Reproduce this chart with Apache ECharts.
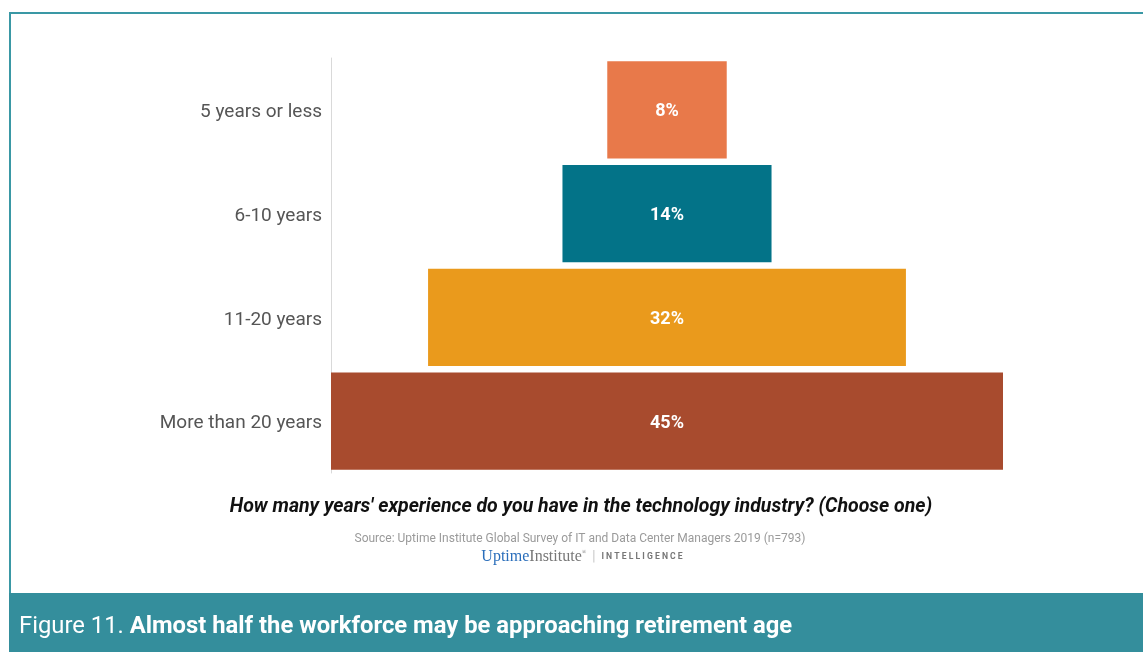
<!DOCTYPE html>
<html>
<head>
<meta charset="utf-8">
<script src="https://cdn.jsdelivr.net/npm/echarts@6/dist/echarts.min.js"></script>
<style>
  html, body { margin: 0; padding: 0; background: #fff; }
  #chart { width: 1143px; height: 652px; }
</style>
</head>
<body>
<div id="chart"></div>
<script>
// Years of experience in the technology industry (share of respondents, %)
const categories = ['5 years or less', '6-10 years', '11-20 years', 'More than 20 years'];
const shares = [8, 14, 32, 45];
const barColors = ['#e8794a', '#037388', '#ea9a1c', '#a84b2e'];

const question = "How many years' experience do you have in the technology industry? (Choose one)";
const source = 'Source: Uptime Institute Global Survey of IT and Data Center Managers 2019 (n=793)';

const maxShare = Math.max(...shares);
// transparent spacer so each bar sits centred on the widest one
const spacer = shares.map(v => (maxShare - v) / 2);

const chart = echarts.init(document.getElementById('chart'));
chart.setOption({
  animation: false,
  backgroundColor: '#fff',
  grid: { left: 331, right: 140, top: 58, height: 415 },
  xAxis: {
    type: 'value', min: 0, max: maxShare,
    show: false
  },
  yAxis: {
    type: 'category', data: categories, inverse: true,
    axisLine: { show: true, lineStyle: { color: '#d9d9d9', width: 1 } },
    axisTick: { show: false },
    axisLabel: {
      margin: 9,
      formatter: v => '{c|' + v + '}',
      rich: {
        c: { color: '#555', fontSize: 19, fontFamily: 'Roboto', padding: [5, 0, 0, 0] }
      }
    }
  },
  series: [
    {
      type: 'bar', stack: 'f', data: spacer,
      itemStyle: { color: 'transparent' },
      barCategoryGap: '6.5%', silent: true
    },
    {
      type: 'bar', stack: 'f',
      data: shares.map((v, i) => ({ value: v, itemStyle: { color: barColors[i] } })),
      barCategoryGap: '6.5%',
      label: {
        show: true, position: 'inside', formatter: '{c}%', offset: [0, 2],
        color: '#fff', fontWeight: 'bold', fontSize: 18, fontFamily: 'Roboto'
      }
    }
  ],
  title: [
    {
      text: question, left: 581, top: 497, textAlign: 'center', padding: 0,
      textStyle: { fontFamily: 'Roboto', fontSize: 19.5, fontWeight: 'bold', fontStyle: 'italic', color: '#111' }
    },
    {
      text: source, left: 580, top: 533, textAlign: 'center', padding: 0,
      textStyle: { fontFamily: 'Roboto', fontSize: 12, fontWeight: 'normal', color: '#9a9a9a' }
    },
    {
      text: '{u|Uptime}{i|Institute}{r|®}{s| | }{t|I N T E L L I G E N C E}',
      left: 582, top: 549, textAlign: 'center', padding: 0,
      textStyle: {
        fontWeight: 'normal',
        rich: {
          u: { fontFamily: 'Liberation Serif', fontSize: 16, fontWeight: 'normal', color: '#2a6ebb' },
          i: { fontFamily: 'Liberation Serif', fontSize: 16, fontWeight: 'normal', color: '#777' },
          r: { fontFamily: 'Liberation Serif', fontSize: 6, fontWeight: 'normal', color: '#777', verticalAlign: 'top' },
          s: { fontFamily: 'Roboto', fontSize: 15, fontWeight: 'normal', color: '#ccc', padding: [0, 2, 0, 2] },
          t: { fontFamily: 'Roboto', fontSize: 8.6, fontWeight: 'bold', color: '#777' }
        }
      }
    },
    {
      text: '{a|Figure 11. }{b|Almost half the workforce may be approaching retirement age}',
      left: 19, top: 615, padding: 0,
      textStyle: {
        fontWeight: 'normal',
        rich: {
          a: { fontFamily: 'Roboto', fontSize: 23.8, fontWeight: 'normal', color: '#fff' },
          b: { fontFamily: 'Roboto', fontSize: 23.8, fontWeight: 'bold', color: '#fff' }
        }
      }
    }
  ],
  graphic: [
    {
      type: 'rect', z: -1,
      shape: { x: 10, y: 13, width: 1160, height: 600 },
      style: { fill: 'none', stroke: '#3a98a5', lineWidth: 2 }
    },
    {
      type: 'rect', z: 0,
      shape: { x: 9, y: 593, width: 1140, height: 60 },
      style: { fill: '#348e9c' }
    }
  ]
});
</script>
</body>
</html>
